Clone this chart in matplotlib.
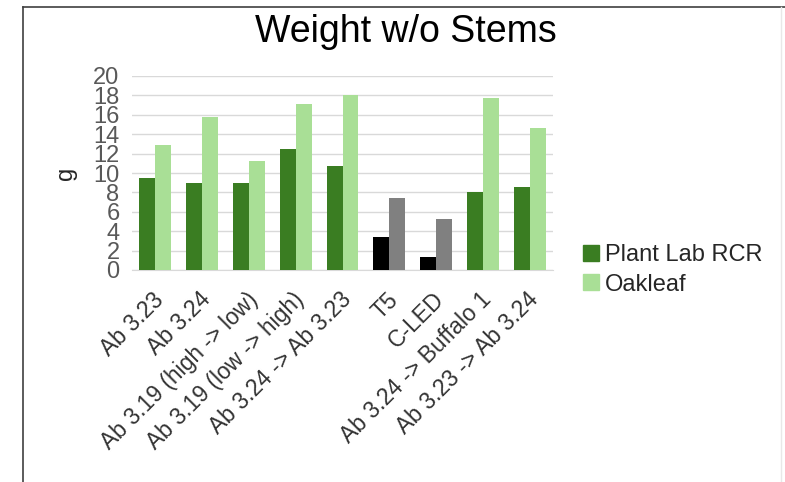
import matplotlib
matplotlib.use("Agg")
import matplotlib.pyplot as plt
import matplotlib.transforms as mtransforms
import numpy as np
from matplotlib.lines import Line2D
from matplotlib.patches import Patch

plt.rcParams['font.family'] = ['Liberation Sans', 'DejaVu Sans']

categories = ["Ab 3.23", "Ab 3.24", "Ab 3.19 (high -> low)", "Ab 3.19 (low -> high)",
              "Ab 3.24 -> Ab 3.23", "T5", "C-LED", "Ab 3.24 -> Buffalo 1", "Ab 3.23 -> Ab 3.24"]
plant_lab = [9.45, 9.0, 8.93, 12.44, 10.72, 3.37, 1.31, 8.0, 8.59]
oakleaf = [12.9, 15.8, 11.24, 17.08, 18.08, 7.42, 5.29, 17.77, 14.64]
yticks = [0, 2, 4, 6, 8, 10, 12, 14, 16, 18, 20]

dark_green = "#3a7d22"
light_green = "#a9df96"
dark_colors = [dark_green]*5 + ["#000000", "#000000"] + [dark_green]*2
light_colors = [light_green]*5 + ["#808080", "#808080"] + [light_green]*2

W, H = 785, 482
fig = plt.figure(figsize=(W/100, H/100), dpi=100)
ax = fig.add_axes([132/W, 1-270/H, (553-132)/W, (270-76)/H])

x = np.arange(len(categories))
w = 0.34
ax.bar(x - w/2, plant_lab, w, color=dark_colors, zorder=3)
ax.bar(x + w/2, oakleaf, w, color=light_colors, zorder=3)

ax.set_xlim(-0.5, len(categories) - 0.5)
ax.set_ylim(0, 20)
ax.set_yticks(yticks)
ax.set_yticklabels([str(t) for t in yticks], fontsize=17, color="#595959")
ax.yaxis.grid(True, color="#d9d9d9", linewidth=1, zorder=0)
ax.set_axisbelow(True)
for s in ["top", "right", "left"]:
    ax.spines[s].set_visible(False)
ax.spines["bottom"].set_color("#d9d9d9")
ax.tick_params(axis="both", length=0)
ax.tick_params(axis="y", pad=9)
ax.set_xticks(x)
ax.set_xticklabels(categories, rotation=45, ha="right", rotation_mode="anchor",
                   fontsize=16.5, color="#333333")
ax.tick_params(axis="x", pad=13)
offset = mtransforms.ScaledTranslation(-3/100, 0, fig.dpi_scale_trans)
for lab in ax.get_xticklabels():
    lab.set_transform(lab.get_transform() + offset)

fig.text(66/W, 1-173/H, "g", rotation=90, ha="center", va="center",
         fontsize=17, color="#262626")

fig.text(406/W, 1-42/H, "Weight w/o Stems", ha="center", va="baseline",
         fontsize=27, color="#000000")

handles = [Patch(color=dark_green, label="Plant Lab RCR"), Patch(color=light_green, label="Oakleaf")]
fig.legend(handles=handles, loc="center left", bbox_to_anchor=(583/W, 1-270/H),
           frameon=False, fontsize=17, handlelength=0.68, handleheight=0.68, handletextpad=0.25,
           labelspacing=0.3, borderpad=0, borderaxespad=0, labelcolor="#262626")

fig.add_artist(Line2D([23/W, 23/W], [0, 1-7/H], color="#404040", linewidth=1.2))
fig.add_artist(Line2D([23/W, 1], [1-7/H, 1-7/H], color="#404040", linewidth=1.2))
fig.add_artist(Line2D([781/W, 781/W], [0, 1-7/H], color="#e8e8e8", linewidth=1))

fig.savefig("out.png", dpi=100)
